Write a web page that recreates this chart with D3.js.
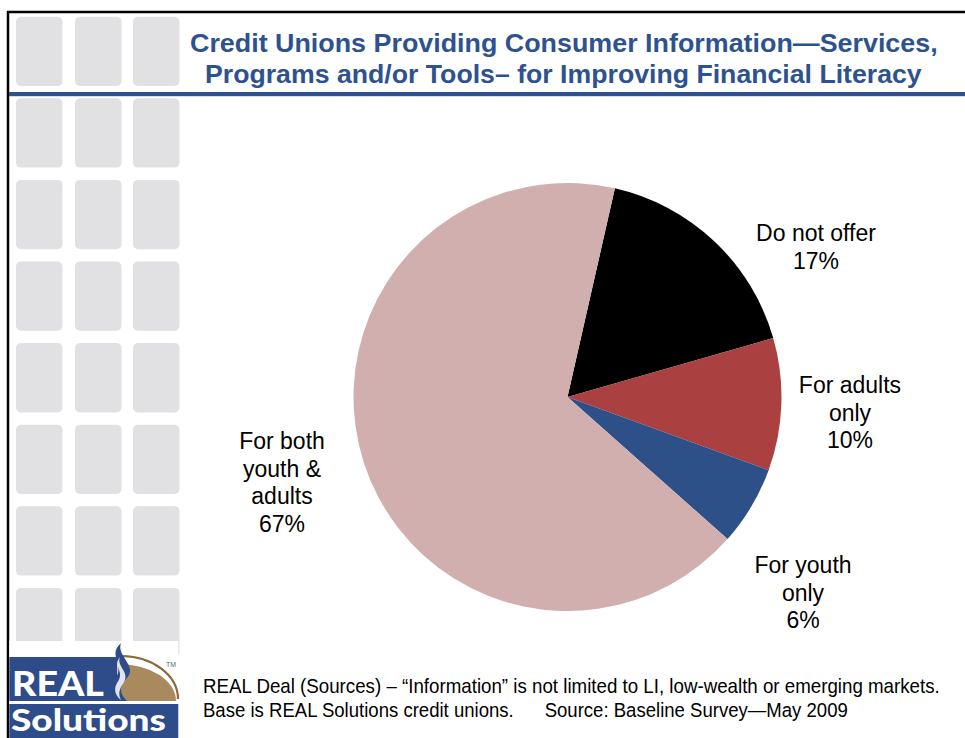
<!DOCTYPE html>
<html>
<head>
<meta charset="utf-8">
<script src="https://cdn.jsdelivr.net/npm/d3@7"></script>
<style>
  html, body { margin: 0; padding: 0; background: #fff; }
  svg { display: block; }
</style>
</head>
<body>
<svg id="slide" width="965" height="738"></svg>
<script>
// ---- data ----
const categories = ["Do not offer", "For adults only", "For youth only", "For both youth & adults"];
const values = [17, 10, 6, 67];
const labelLines = [
  ["Do not offer"],
  ["For adults", "only"],
  ["For youth", "only"],
  ["For both", "youth &", "adults"]
];
const titleLines = [
  "Credit Unions Providing Consumer Information\u2014Services,",
  "Programs and/or Tools\u2013 for Improving Financial Literacy"
];
const footerLines = [
  "REAL Deal (Sources) \u2013 \u201cInformation\u201d is not limited to LI, low-wealth or emerging markets.",
  "Base is REAL Solutions credit unions.\u00a0\u00a0\u00a0\u00a0\u00a0\u00a0Source: Baseline Survey\u2014May 2009"
];

// ---- layout & style ----
const W = 965, H = 738;
const navy = "#2E5290";
const sliceColors = ["#000000", "#AB4040", "#2E5088", "#D1AFAF"];
const cx = 567.5, cy = 397, R = 214;
const firstSliceAngle = 12.8 * Math.PI / 180;
// label anchor: centre x and first baseline
const labelAnchors = [[816, 241], [850, 393], [803, 573], [282, 449]];
const labelStep = 27.6;

const svg = d3.select("#slide");

// Draws a line of text squeezed horizontally so it spans [x0, x1].
function fitText(parent, str, x0, x1, y, attrs) {
  const g = parent.append("g");
  const t = g.append("text").attr("x", 0).attr("y", 0).text(str);
  Object.entries(attrs).forEach(([k, v]) => t.attr(k, v));
  const w = t.node().getComputedTextLength();
  const k = (x1 - x0) / w;
  g.attr("transform", `translate(${x0},${y}) scale(${k},1)`);
  return t;
}

// background tile pattern on the left
const tileCols = [16, 75, 133];
const tileG = svg.append("g");
for (let r = 0; r < 8; r++) {
  for (const x of tileCols) {
    tileG.append("rect")
      .attr("x", x).attr("y", 16.7 + r * 81.6)
      .attr("width", 46.5).attr("height", 69.3)
      .attr("rx", 5).attr("ry", 5)
      .attr("fill", "#E1E1E3");
  }
}

// frame
svg.append("line").attr("x1", 7).attr("x2", W).attr("y1", 12).attr("y2", 12)
  .attr("stroke", "#000").attr("stroke-width", 2.5);
svg.append("line").attr("x1", 8).attr("x2", 8).attr("y1", 11).attr("y2", H)
  .attr("stroke", "#000").attr("stroke-width", 2.5);

// rule under the title
svg.append("rect").attr("x", 9).attr("y", 92).attr("width", W - 9).attr("height", 4.2)
  .attr("fill", navy);

// title (condensed bold face)
const titleSpans = [[190, 938], [205, 922]];
titleLines.forEach((t, i) => {
  fitText(svg, t, titleSpans[i][0], titleSpans[i][1], 52 + i * 31, {
    "font-family": "Liberation Sans, Arial, sans-serif",
    "font-weight": "bold", "font-size": 26.5, "fill": navy
  });
});

// pie
const pie = d3.pie().sort(null).value(d => d)
  .startAngle(firstSliceAngle).endAngle(firstSliceAngle + 2 * Math.PI);
const arc = d3.arc().innerRadius(0).outerRadius(R);
const arcs = pie(values);
const pieG = svg.append("g").attr("transform", `translate(${cx},${cy})`);
pieG.selectAll("path").data(arcs).join("path")
  .attr("d", arc)
  .attr("fill", (d, i) => sliceColors[i]);

// data labels
const lab = svg.append("g")
  .attr("font-family", "Liberation Sans, Arial, sans-serif")
  .attr("font-size", 23).attr("fill", "#000").attr("text-anchor", "middle");
arcs.forEach((d, i) => {
  const lines = labelLines[i].concat([d3.format(".0f")(d.value) + "%"]);
  const [lx, ly] = labelAnchors[i];
  const t = lab.append("text").attr("x", lx).attr("y", ly);
  lines.forEach((s, k) => {
    t.append("tspan").attr("x", lx).attr("y", ly + k * labelStep).text(s);
  });
});

// footer note (condensed)
const footSpans = [[203, 940], [203, 848]];
footerLines.forEach((t, i) => {
  fitText(svg, t, footSpans[i][0], footSpans[i][1], 693 + i * 23.5, {
    "font-family": "Liberation Sans, Arial, sans-serif",
    "font-size": 20.5, "fill": "#000"
  });
});

// logo
const logo = svg.append("g");
logo.append("rect").attr("x", 9.3).attr("y", 641).attr("width", 169).attr("height", H - 641).attr("fill", "#fff");
const logoBlue = "#2E4C8A";
logo.append("rect").attr("x", 9.3).attr("y", 657).attr("width", 108).attr("height", 44).attr("fill", logoBlue);
logo.append("rect").attr("x", 9.3).attr("y", 704).attr("width", 169).attr("height", 34).attr("fill", logoBlue);
// tan dome
logo.append("path")
  .attr("d", "M118,664 A58,37 0 0 1 176,701 L118,701 Z")
  .attr("fill", "#A98A5E");
logo.append("path")
  .attr("d", "M122,656 A57,43 0 0 1 178,699")
  .attr("fill", "none").attr("stroke", "#8C6A3C").attr("stroke-width", 2.2);
// flame
logo.append("path")
  .attr("d", "M121,643 C106,656 128,666 114,679 C104,688 110,697 117,701 L127,701 C120,694 118,687 127,678 C138,666 116,656 121,643 Z")
  .attr("fill", logoBlue);
logo.append("path")
  .attr("d", "M120,657 C112,666 126,672 117,683 C113,690 116,696 121,700 C117,692 121,687 124,682 C130,672 116,666 120,657 Z")
  .attr("fill", "#fff").attr("opacity", 0.85);
logo.append("text").attr("x", 166).attr("y", 667)
  .attr("font-family", "Liberation Sans, Arial, sans-serif").attr("font-size", 7).attr("fill", "#666")
  .text("TM");
fitText(logo, "REAL", 12, 104, 696, {
  "font-family": "Lato, Open Sans, sans-serif", "font-weight": 900,
  "font-size": 34, "fill": "#fff"
});
fitText(logo, "Solutions", 11, 166, 731, {
  "font-family": "Lato, Open Sans, sans-serif", "font-weight": 900,
  "font-size": 31, "fill": "#fff"
});
</script>
</body>
</html>
